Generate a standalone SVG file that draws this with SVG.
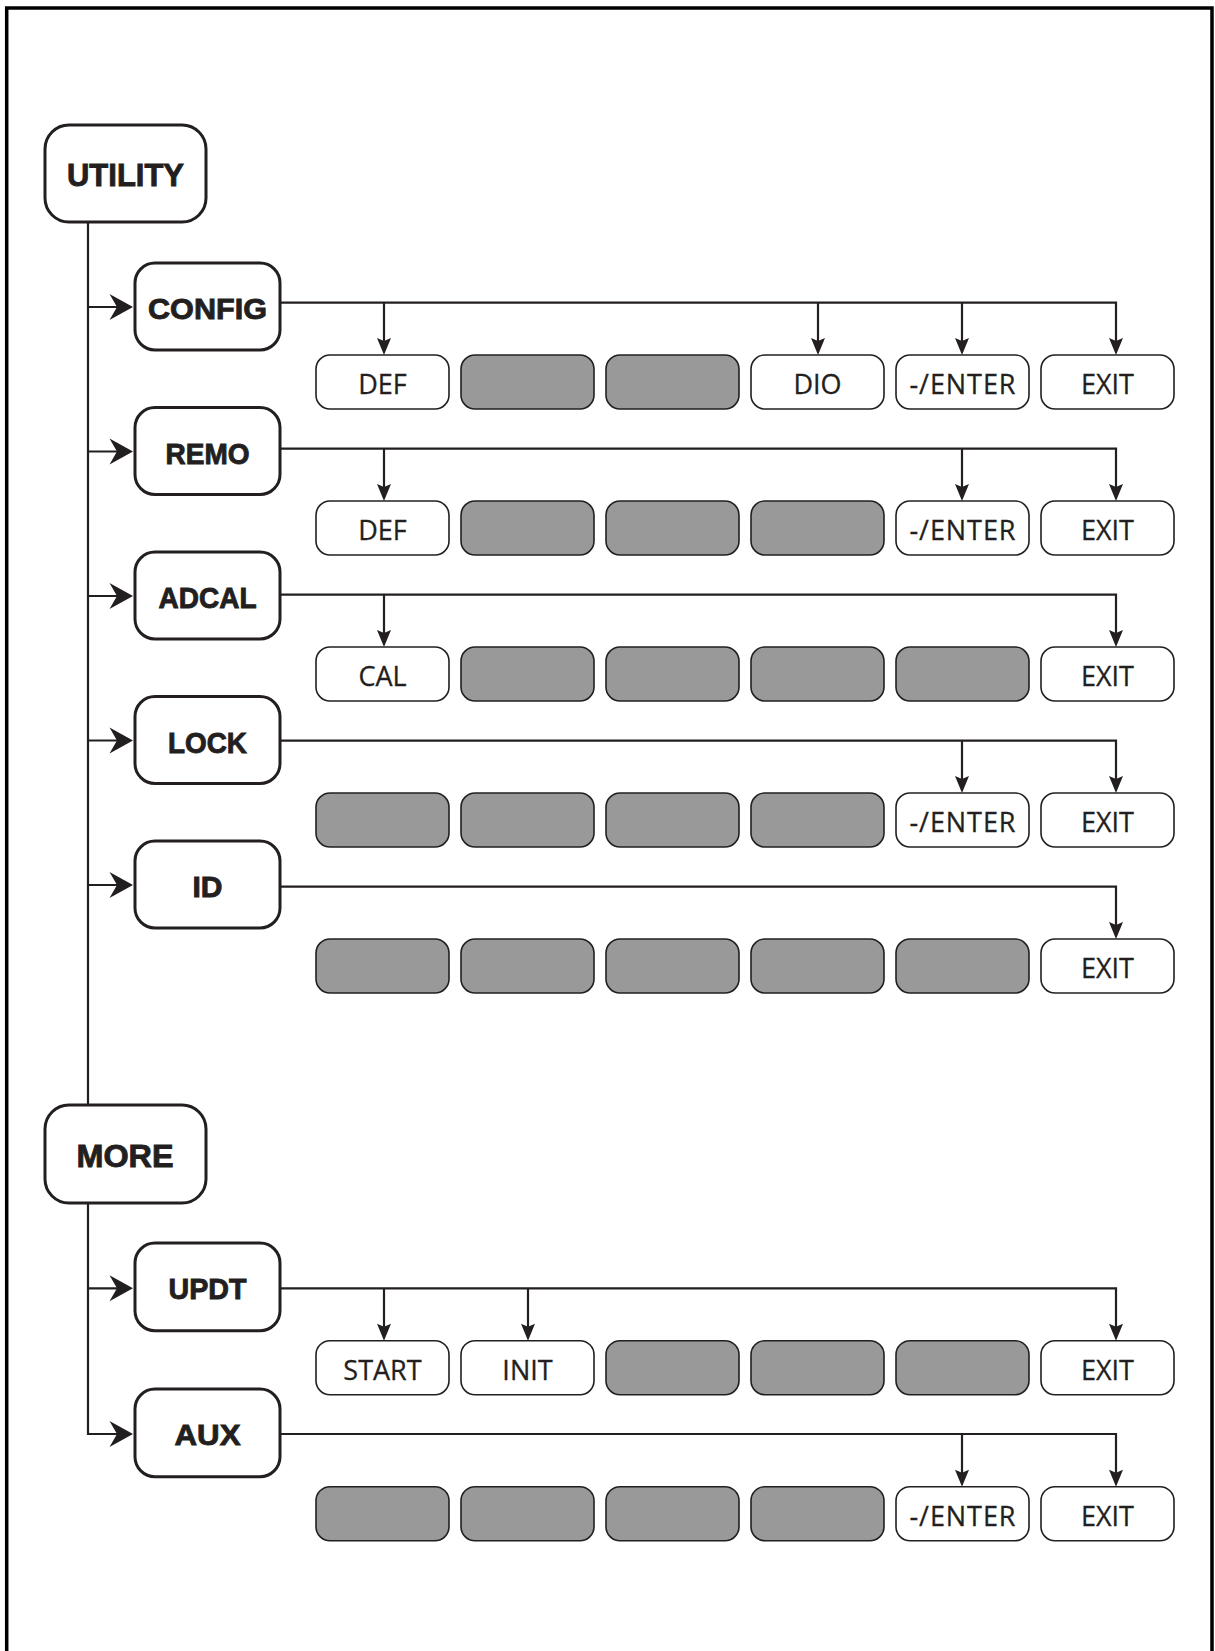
<svg xmlns="http://www.w3.org/2000/svg" xmlns:xlink="http://www.w3.org/1999/xlink" width="1215" height="1651" viewBox="0 0 1215 1651">
<style>
.frame{fill:none;stroke:#000;stroke-width:3.5}
.main{fill:#fff;stroke:#231f20;stroke-width:3}
.mt{font-family:"Liberation Sans",Arial,sans-serif;font-weight:bold;fill:#231f20;stroke:#231f20;stroke-width:0.9;text-anchor:middle}
.box{fill:#fff;stroke:#231f20;stroke-width:1.6}
.gray{fill:#999;stroke:#231f20;stroke-width:1.6}
.bt{font-family:"Open Sans","Noto Sans",sans-serif;font-size:27px;fill:#231f20;stroke:#231f20;stroke-width:0.3;text-anchor:middle}
.ln{fill:none;stroke:#231f20;stroke-width:2.2}
.ah{fill:#231f20}
</style>
<defs>
<path id="ad" d="M0,0 L-7,-17 L0,-14 L7,-17 Z"/>
<path id="ar" d="M0,0 L-23.5,-13 L-16,0 L-23.5,13 Z"/>
</defs>
<rect width="1215" height="1651" fill="#fff"/>
<path class="frame" d="M6.7,1651 V8 H1212 V1651"/>

<g id="connectors">
<path class="ln" d="M88,222 V1105 M88,1203 V1434 H118"/>
<path class="ln" d="M88,307 H118 M88,451.5 H118 M88,596 H118 M88,740.5 H118 M88,885 H118 M88,1288.3 H118"/>
<g class="ah">
<use xlink:href="#ar" x="133" y="307"/>
<use xlink:href="#ar" x="133" y="451.5"/>
<use xlink:href="#ar" x="133" y="596"/>
<use xlink:href="#ar" x="133" y="740.5"/>
<use xlink:href="#ar" x="133" y="885"/>
<use xlink:href="#ar" x="133" y="1288.3"/>
<use xlink:href="#ar" x="133" y="1434"/>
</g>
<path class="ln" d="M280,302.7 H1116 V343 M384,302.7 V343 M818,302.7 V343 M962,302.7 V343"/>
<path class="ln" d="M280,448.7 H1116 V489 M384,448.7 V489 M962,448.7 V489"/>
<path class="ln" d="M280,594.7 H1116 V635 M384,594.7 V635"/>
<path class="ln" d="M280,740.7 H1116 V781 M962,740.7 V781"/>
<path class="ln" d="M280,886.7 H1116 V927"/>
<path class="ln" d="M280,1288.3 H1116 V1329 M384,1288.3 V1329 M528,1288.3 V1329"/>
<path class="ln" d="M280,1434 H1116 V1475 M962,1434 V1475"/>
<g class="ah">
<use xlink:href="#ad" x="384" y="355"/><use xlink:href="#ad" x="818" y="355"/><use xlink:href="#ad" x="962" y="355"/><use xlink:href="#ad" x="1116" y="355"/>
<use xlink:href="#ad" x="384" y="501"/><use xlink:href="#ad" x="962" y="501"/><use xlink:href="#ad" x="1116" y="501"/>
<use xlink:href="#ad" x="384" y="647"/><use xlink:href="#ad" x="1116" y="647"/>
<use xlink:href="#ad" x="962" y="793"/><use xlink:href="#ad" x="1116" y="793"/>
<use xlink:href="#ad" x="1116" y="939"/>
<use xlink:href="#ad" x="384" y="1340.7"/><use xlink:href="#ad" x="528" y="1340.7"/><use xlink:href="#ad" x="1116" y="1340.7"/>
<use xlink:href="#ad" x="962" y="1486.7"/><use xlink:href="#ad" x="1116" y="1486.7"/>
</g>
</g>

<g id="utility"><rect class="main" x="45" y="125" width="161" height="97" rx="24"/><text class="mt" x="125.5" y="186" font-size="32" textLength="117" lengthAdjust="spacingAndGlyphs">UTILITY</text></g>
<g id="more"><rect class="main" x="45" y="1105" width="161" height="98" rx="24"/><text class="mt" x="125" y="1167" font-size="32" textLength="97" lengthAdjust="spacingAndGlyphs">MORE</text></g>

<g id="config"><rect class="main" x="135" y="263" width="145" height="87" rx="20"/><text class="mt" x="207.5" y="319" font-size="30" textLength="119" lengthAdjust="spacingAndGlyphs">CONFIG</text></g>
<g id="remo"><rect class="main" x="135" y="407.5" width="145" height="87" rx="20"/><text class="mt" x="207.5" y="463.5" font-size="30" textLength="84" lengthAdjust="spacingAndGlyphs">REMO</text></g>
<g id="adcal"><rect class="main" x="135" y="552" width="145" height="87" rx="20"/><text class="mt" x="207.5" y="608" font-size="30" textLength="98" lengthAdjust="spacingAndGlyphs">ADCAL</text></g>
<g id="lock"><rect class="main" x="135" y="696.5" width="145" height="87" rx="20"/><text class="mt" x="207.5" y="752.5" font-size="30" textLength="79" lengthAdjust="spacingAndGlyphs">LOCK</text></g>
<g id="id"><rect class="main" x="135" y="841" width="145" height="87" rx="20"/><text class="mt" x="207.5" y="897.3" font-size="30" textLength="30" lengthAdjust="spacingAndGlyphs">ID</text></g>
<g id="updt"><rect class="main" x="135" y="1243" width="145" height="87.7" rx="20"/><text class="mt" x="207.5" y="1299" font-size="30" textLength="78" lengthAdjust="spacingAndGlyphs">UPDT</text></g>
<g id="aux"><rect class="main" x="135" y="1389" width="145" height="87.7" rx="20"/><text class="mt" x="207.5" y="1445" font-size="30" textLength="66" lengthAdjust="spacingAndGlyphs">AUX</text></g>

<g id="config-def"><rect class="box" x="316" y="355" width="133" height="54" rx="14"/><text class="bt" x="382.5" y="394">DEF</text></g>
<g id="config-k2"><rect class="gray" x="461" y="355" width="133" height="54" rx="14"/></g>
<g id="config-k3"><rect class="gray" x="606" y="355" width="133" height="54" rx="14"/></g>
<g id="config-dio"><rect class="box" x="751" y="355" width="133" height="54" rx="14"/><text class="bt" x="817.5" y="394">DIO</text></g>
<g id="config-enter"><rect class="box" x="896" y="355" width="133" height="54" rx="14"/><text class="bt" x="962.5" y="394" textLength="106">-/ENTER</text></g>
<g id="config-exit"><rect class="box" x="1041" y="355" width="133" height="54" rx="14"/><text class="bt" x="1107.5" y="394">EXIT</text></g>

<g id="remo-def"><rect class="box" x="316" y="501" width="133" height="54" rx="14"/><text class="bt" x="382.5" y="540">DEF</text></g>
<g id="remo-k2"><rect class="gray" x="461" y="501" width="133" height="54" rx="14"/></g>
<g id="remo-k3"><rect class="gray" x="606" y="501" width="133" height="54" rx="14"/></g>
<g id="remo-k4"><rect class="gray" x="751" y="501" width="133" height="54" rx="14"/></g>
<g id="remo-enter"><rect class="box" x="896" y="501" width="133" height="54" rx="14"/><text class="bt" x="962.5" y="540" textLength="106">-/ENTER</text></g>
<g id="remo-exit"><rect class="box" x="1041" y="501" width="133" height="54" rx="14"/><text class="bt" x="1107.5" y="540">EXIT</text></g>

<g id="adcal-cal"><rect class="box" x="316" y="647" width="133" height="54" rx="14"/><text class="bt" x="382.5" y="686">CAL</text></g>
<g id="adcal-k2"><rect class="gray" x="461" y="647" width="133" height="54" rx="14"/></g>
<g id="adcal-k3"><rect class="gray" x="606" y="647" width="133" height="54" rx="14"/></g>
<g id="adcal-k4"><rect class="gray" x="751" y="647" width="133" height="54" rx="14"/></g>
<g id="adcal-k5"><rect class="gray" x="896" y="647" width="133" height="54" rx="14"/></g>
<g id="adcal-exit"><rect class="box" x="1041" y="647" width="133" height="54" rx="14"/><text class="bt" x="1107.5" y="686">EXIT</text></g>

<g id="lock-k1"><rect class="gray" x="316" y="793" width="133" height="54" rx="14"/></g>
<g id="lock-k2"><rect class="gray" x="461" y="793" width="133" height="54" rx="14"/></g>
<g id="lock-k3"><rect class="gray" x="606" y="793" width="133" height="54" rx="14"/></g>
<g id="lock-k4"><rect class="gray" x="751" y="793" width="133" height="54" rx="14"/></g>
<g id="lock-enter"><rect class="box" x="896" y="793" width="133" height="54" rx="14"/><text class="bt" x="962.5" y="832" textLength="106">-/ENTER</text></g>
<g id="lock-exit"><rect class="box" x="1041" y="793" width="133" height="54" rx="14"/><text class="bt" x="1107.5" y="832">EXIT</text></g>

<g id="id-k1"><rect class="gray" x="316" y="939" width="133" height="54" rx="14"/></g>
<g id="id-k2"><rect class="gray" x="461" y="939" width="133" height="54" rx="14"/></g>
<g id="id-k3"><rect class="gray" x="606" y="939" width="133" height="54" rx="14"/></g>
<g id="id-k4"><rect class="gray" x="751" y="939" width="133" height="54" rx="14"/></g>
<g id="id-k5"><rect class="gray" x="896" y="939" width="133" height="54" rx="14"/></g>
<g id="id-exit"><rect class="box" x="1041" y="939" width="133" height="54" rx="14"/><text class="bt" x="1107.5" y="978">EXIT</text></g>

<g id="updt-start"><rect class="box" x="316" y="1340.7" width="133" height="54" rx="14"/><text class="bt" x="382.5" y="1379.7">START</text></g>
<g id="updt-init"><rect class="box" x="461" y="1340.7" width="133" height="54" rx="14"/><text class="bt" x="527.5" y="1379.7">INIT</text></g>
<g id="updt-k3"><rect class="gray" x="606" y="1340.7" width="133" height="54" rx="14"/></g>
<g id="updt-k4"><rect class="gray" x="751" y="1340.7" width="133" height="54" rx="14"/></g>
<g id="updt-k5"><rect class="gray" x="896" y="1340.7" width="133" height="54" rx="14"/></g>
<g id="updt-exit"><rect class="box" x="1041" y="1340.7" width="133" height="54" rx="14"/><text class="bt" x="1107.5" y="1379.7">EXIT</text></g>

<g id="aux-k1"><rect class="gray" x="316" y="1486.7" width="133" height="54" rx="14"/></g>
<g id="aux-k2"><rect class="gray" x="461" y="1486.7" width="133" height="54" rx="14"/></g>
<g id="aux-k3"><rect class="gray" x="606" y="1486.7" width="133" height="54" rx="14"/></g>
<g id="aux-k4"><rect class="gray" x="751" y="1486.7" width="133" height="54" rx="14"/></g>
<g id="aux-enter"><rect class="box" x="896" y="1486.7" width="133" height="54" rx="14"/><text class="bt" x="962.5" y="1525.7" textLength="106">-/ENTER</text></g>
<g id="aux-exit"><rect class="box" x="1041" y="1486.7" width="133" height="54" rx="14"/><text class="bt" x="1107.5" y="1525.7">EXIT</text></g>
</svg>
